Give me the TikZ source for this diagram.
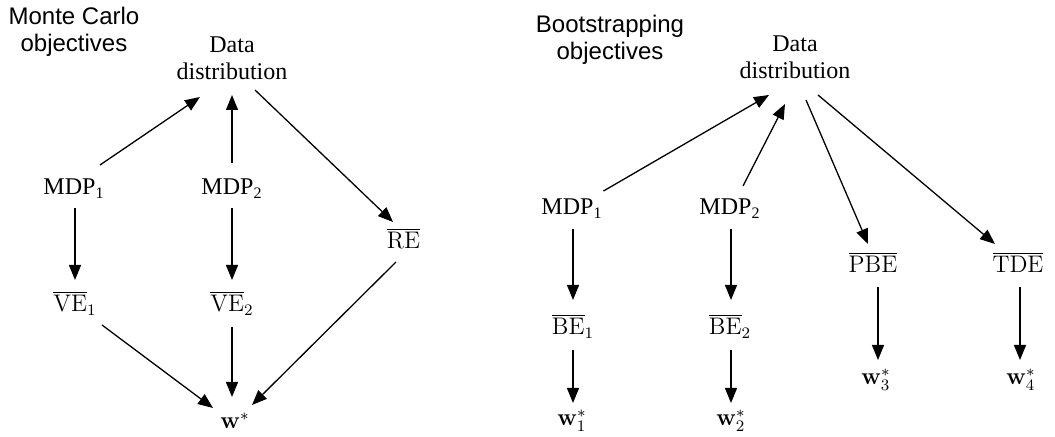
\documentclass[tikz,border=0pt]{standalone}
\usepackage[no-math]{fontspec}
\setmainfont{Liberation Serif}
\newfontfamily\hvfont{Liberation Sans}
\usetikzlibrary{arrows.meta}
\begin{document}
\begin{tikzpicture}[x=0.5pt,y=-0.5pt,
  every node/.style={inner sep=0pt, outer sep=0pt},
  ttl/.style={font=\hvfont\fontsize{12}{13.5}\selectfont, align=center, anchor=base},
  txt/.style={font=\fontsize{12}{13.5}\selectfont, align=center, anchor=base},
  arr/.style={-{Triangle[length=7.5pt,width=6pt]}, line width=0.65pt}]
\useasboundingbox (0,0) rectangle (1055,437);

% ---------------- Monte Carlo objectives ----------------
\node[ttl] (tL) at (74,52) {Monte Carlo\\objectives};
\node[txt] (dL) at (232,80) {Data\\distribution};
\node[txt] (m1L) at (74,195) {MDP\textsubscript{1}};
\node[txt] (m2L) at (232,195) {MDP\textsubscript{2}};
\node[txt] (reL) at (403.5,249) {$\overline{\mathrm{RE}}$};
\node[txt] (v1L) at (75,312) {$\overline{\mathrm{VE}}_1$};
\node[txt] (v2L) at (232,312) {$\overline{\mathrm{VE}}_2$};
\node[txt] (wL) at (235,429) {$\mathbf{w}^*$};

\draw[arr] ([shift={(26,-30)}]m1L.base) -- ([shift={(-32,17)}]dL.base);
\draw[arr] ([shift={(0,-32)}]m2L.base) -- ([shift={(0,15)}]dL.base);
\draw[arr] ([shift={(23,10)}]dL.base) -- ([shift={(-10.5,-27)}]reL.base);
\draw[arr] ([shift={(1,13)}]m1L.base) -- ([shift={(0,-32)}]v1L.base);
\draw[arr] ([shift={(0,13)}]m2L.base) -- ([shift={(0,-32)}]v2L.base);
\draw[arr] ([shift={(27,13)}]v1L.base) -- ([shift={(-22,-21)}]wL.base);
\draw[arr] ([shift={(0,15)}]v2L.base) -- ([shift={(-3,-32)}]wL.base);
\draw[arr] ([shift={(-7.5,13)}]reL.base) -- ([shift={(17,-24)}]wL.base);

% ---------------- Bootstrapping objectives ----------------
\node[ttl] (tR) at (610,60) {Bootstrapping\\objectives};
\node[txt] (dR) at (795,79) {Data\\distribution};
\node[txt] (m1R) at (572,215) {MDP\textsubscript{1}};
\node[txt] (m2R) at (730,215) {MDP\textsubscript{2}};
\node[txt] (b1R) at (573,335) {$\overline{\mathrm{BE}}_1$};
\node[txt] (b2R) at (730,335) {$\overline{\mathrm{BE}}_2$};
\node[txt] (pR) at (873,273) {$\overline{\mathrm{PBE}}$};
\node[txt] (tdR) at (1018,273) {$\overline{\mathrm{TDE}}$};
\node[txt] (w1R) at (572,426) {$\mathbf{w}^*_1$};
\node[txt] (w2R) at (731,426) {$\mathbf{w}^*_2$};
\node[txt] (w3R) at (876,385) {$\mathbf{w}^*_3$};
\node[txt] (w4R) at (1021,385) {$\mathbf{w}^*_4$};

\draw[arr] ([shift={(31.5,-24)}]m1R.base) -- ([shift={(-26,16)}]dR.base);
\draw[arr] ([shift={(13,-29)}]m2R.base) -- ([shift={(-10,25)}]dR.base);
\draw[arr] ([shift={(11,21)}]dR.base) -- ([shift={(-5,-29)}]pR.base);
\draw[arr] ([shift={(23,16)}]dR.base) -- ([shift={(-23,-29)}]tdR.base);
\draw[arr] ([shift={(1,14)}]m1R.base) -- ([shift={(0,-35)}]b1R.base);
\draw[arr] ([shift={(0,15)}]b1R.base) -- ([shift={(1,-23)}]w1R.base);
\draw[arr] ([shift={(1,14)}]m2R.base) -- ([shift={(1,-35)}]b2R.base);
\draw[arr] ([shift={(1,15)}]b2R.base) -- ([shift={(0,-23)}]w2R.base);
\draw[arr] ([shift={(5,14)}]pR.base) -- ([shift={(2,-25)}]w3R.base);
\draw[arr] ([shift={(2,14)}]tdR.base) -- ([shift={(-1,-25)}]w4R.base);
\end{tikzpicture}
\end{document}
